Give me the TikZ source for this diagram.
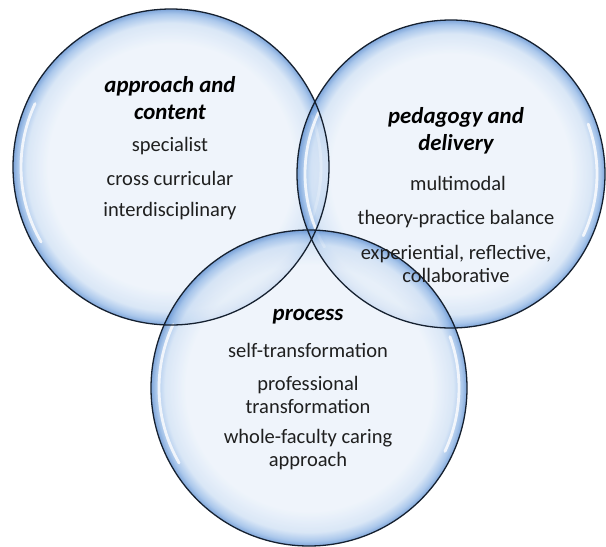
\documentclass[tikz,border=0pt]{standalone}
\usepackage{fontspec}
\setmainfont{Carlito}
\definecolor{bubIn}{HTML}{EAF1FA}
\definecolor{bubSoft}{HTML}{CFE0F4}
\definecolor{bubMid}{HTML}{93B8E6}
\definecolor{bubRim}{HTML}{5A8CCF}
\definecolor{bubLine}{HTML}{15202F}
\pgfdeclareradialshading{bubble}{\pgfpointorigin}{color(0bp)=(bubIn); color(19.5bp)=(bubIn); color(22.8bp)=(bubSoft); color(24.2bp)=(bubMid); color(25bp)=(bubRim); color(50bp)=(bubRim)}
\tikzset{
  bubbly/.style={shading=bubble, fill opacity=0.78},
  rimline/.style={draw=bubLine, line width=1.1pt},
  gloss/.style={white, line width=2.4pt, opacity=0.8, line cap=round},
  heading/.style={font=\fontsize{19.5}{23}\selectfont\bfseries\itshape, align=center, inner sep=0pt},
  item/.style={font=\fontsize{17.5}{19.6}\selectfont, align=center, inner sep=0pt, text=black!88}
}
\begin{document}
\begin{tikzpicture}
[x=0.03cm, y=-0.03cm]
\useasboundingbox (0,0) rectangle (606,546);
\coordinate (cA) at (171,167);
\coordinate (cB) at (451,174);
\coordinate (cC) at (309,388);
% bubbles
\shade [bubbly] (cA) circle (158);
\draw [gloss] ([shift={(150:150)}]cA) arc (150:205:150);
\draw [gloss] ([shift={(-20:150)}]cA) arc (-20:25:150);
\shade [bubbly] (cB) circle (154);
\draw [gloss] ([shift={(150:146)}]cB) arc (150:205:146);
\draw [gloss] ([shift={(-20:146)}]cB) arc (-20:25:146);
\shade [bubbly] (cC) circle (158);
\draw [gloss] ([shift={(150:150)}]cC) arc (150:205:150);
\draw [gloss] ([shift={(-20:150)}]cC) arc (-20:25:150);
% outlines
\draw [rimline] (cA) circle (158);
\draw [rimline] (cB) circle (154);
\draw [rimline] (cC) circle (158);
% left bubble text
\node [heading] (apTitle) at (170,98.5) {approach and\\content};
\node [item] (apSpec) at (170,146) {specialist};
\node [item] (apCross) at (170,178) {cross curricular};
\node [item] (apInter) at (170,211) {interdisciplinary};
% right bubble text
\node [heading] (pdTitle) at (456,131) {pedagogy and\\delivery};
\node [item] (pdMulti) at (458,183) {multimodal};
\node [item] (pdTheory) at (456,219) {theory-practice balance};
\node [item] (pdExp) at (456,264) {experiential, reflective,\\collaborative};
% bottom bubble text
\node [heading] (prTitle) at (308,317) {process};
\node [item] (prSelf) at (308,350) {self-transformation};
\node [item] (prProf) at (308,394.5) {professional\\transformation};
\node [item] (prWhole) at (308,449.5) {whole-faculty caring\\approach};
\end{tikzpicture}
\end{document}
